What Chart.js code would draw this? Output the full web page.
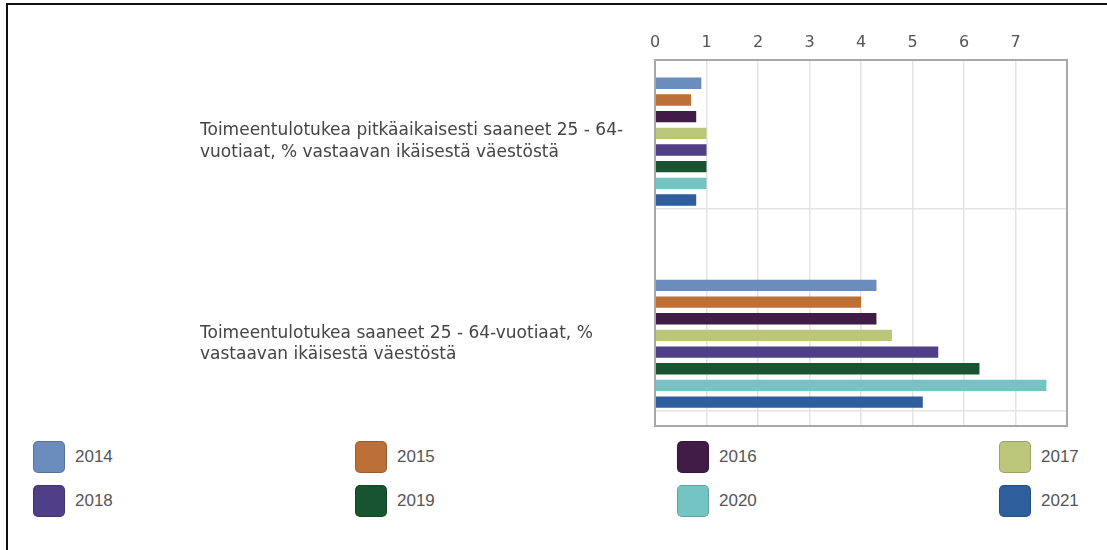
<!DOCTYPE html>
<html>
<head>
<meta charset="UTF-8">
<title>Toimeentulotuki</title>
<script src="https://cdn.jsdelivr.net/npm/chart.js"></script>
<style>
    body { margin: 0; background: white; width: 1107px; height: 550px; overflow: hidden; position: relative; }
    #frame { position: absolute; left: 6px; top: 3px; width: 1200px; height: 600px; border-top: 2px solid #111; border-left: 2px solid #111; }
    #wrap { position: absolute; left: 0; top: 0; width: 1107px; height: 440px; }
    #legend { position: absolute; left: 33px; top: 441px; display: grid; grid-template-columns: repeat(4, 322px); row-gap: 12px; font-family: "Liberation Sans", Arial, sans-serif; font-size: 17px; color: #555; }
    .item { display: flex; align-items: center; height: 32px; }
    .box { width: 30px; height: 30px; border-radius: 5px; border: 1px solid rgba(0,0,0,0.18); margin-right: 10px; }
</style>
</head>
<body>
<div id="frame"></div>
<div id="wrap"><canvas id="chart" width="1107" height="440"></canvas></div>
<div id="legend"></div>
<script>
// category labels, already split into the lines shown in the picture
const categories = [
    ['Toimeentulotukea pitkäaikaisesti saaneet 25 - 64-', 'vuotiaat, % vastaavan ikäisestä väestöstä'],
    ['Toimeentulotukea saaneet 25 - 64-vuotiaat, %', 'vastaavan ikäisestä väestöstä']
];
const years = ['2014', '2015', '2016', '2017', '2018', '2019', '2020', '2021'];
const colors = ['#6a8dbe', '#bc6f37', '#401c46', '#bcc67a', '#4e3f86', '#17542f', '#74c4c3', '#2e5e9c'];

// values per year: [pitkäaikaisesti, kaikki]
const v2014 = [0.9, 4.3];
const v2015 = [0.7, 4.0];
const v2016 = [0.8, 4.3];
const v2017 = [1.0, 4.6];
const v2018 = [1.0, 5.5];
const v2019 = [1.0, 6.3];
const v2020 = [1.0, 7.6];
const v2021 = [0.8, 5.2];
const values = [v2014, v2015, v2016, v2017, v2018, v2019, v2020, v2021];

const xTicks = [0, 1, 2, 3, 4, 5, 6, 7];

const datasets = years.map((y, i) => ({
    label: y,
    data: values[i].map((v, c) => ({ x: v, y: c })),
    backgroundColor: colors[i],
    borderWidth: 0,
    categoryPercentage: 0.66,
    barPercentage: 0.68
}));

// frame around the plot area
const boxPlugin = {
    id: 'box',
    afterDraw(chart) {
        const a = chart.chartArea;
        const ctx = chart.ctx;
        ctx.save();
        ctx.strokeStyle = '#a8a8a8';
        ctx.lineWidth = 2;
        ctx.strokeRect(a.left, a.top, a.right - a.left, a.bottom - a.top);
        ctx.restore();
    }
};

const yRange = { min: -0.404, max: 1.407 };

const chart = new Chart(document.getElementById('chart'), {
    type: 'bar',
    data: { datasets },
    options: {
        responsive: false,
        animation: false,
        indexAxis: 'y',
        layout: { padding: { left: 200, top: 30, right: 40, bottom: 14 } },
        plugins: { legend: { display: false }, tooltip: { enabled: false } },
        scales: {
            x: {
                type: 'linear',
                position: 'top',
                min: 0,
                max: 8,
                afterBuildTicks: axis => { axis.ticks = xTicks.concat([8]).map(v => ({ value: v })); },
                afterFit: axis => { axis.height = 30; },
                ticks: {
                    autoSkip: false,
                    maxRotation: 0,
                    padding: 8,
                    color: '#555',
                    font: { family: 'DejaVu Sans', size: 16 },
                    callback: v => (xTicks.includes(v) ? String(v) : null)
                },
                grid: { color: '#e4e4e4', lineWidth: 1.5, drawTicks: false },
                border: { color: '#a8a8a8', width: 2 }
            },
            y: {
                type: 'linear',
                reverse: true,
                offset: false,
                min: yRange.min,
                max: yRange.max,
                afterBuildTicks: axis => { axis.ticks = categories.map((c, i) => ({ value: i })); },
                afterFit: axis => { axis.width = 455; axis.paddingTop = 0; axis.paddingBottom = 0; },
                ticks: {
                    autoSkip: false,
                    crossAlign: 'far',
                    color: '#444',
                    font: { family: 'DejaVu Sans', size: 17, lineHeight: 1.25 },
                    callback: v => categories[v]
                },
                grid: { display: false, offset: false },
                border: { color: '#a8a8a8', width: 2 }
            },
            yGrid: {
                type: 'linear',
                axis: 'y',
                position: 'left',
                reverse: true,
                offset: false,
                min: yRange.min,
                max: yRange.max,
                afterBuildTicks: axis => { axis.ticks = [{ value: 0.33 }, { value: 1.33 }]; },
                afterFit: axis => { axis.width = 0; axis.paddingTop = 0; axis.paddingBottom = 0; },
                ticks: { display: false },
                grid: { color: '#e4e4e4', lineWidth: 1.5, drawTicks: false, offset: false },
                border: { display: false }
            }
        }
    },
    plugins: [boxPlugin]
});

// legend in four columns, built from the datasets
const legend = document.getElementById('legend');
chart.data.datasets.forEach(ds => {
    const item = document.createElement('div');
    item.className = 'item';
    const box = document.createElement('div');
    box.className = 'box';
    box.style.background = ds.backgroundColor;
    const txt = document.createElement('span');
    txt.textContent = ds.label;
    item.appendChild(box);
    item.appendChild(txt);
    legend.appendChild(item);
});
</script>
</body>
</html>
